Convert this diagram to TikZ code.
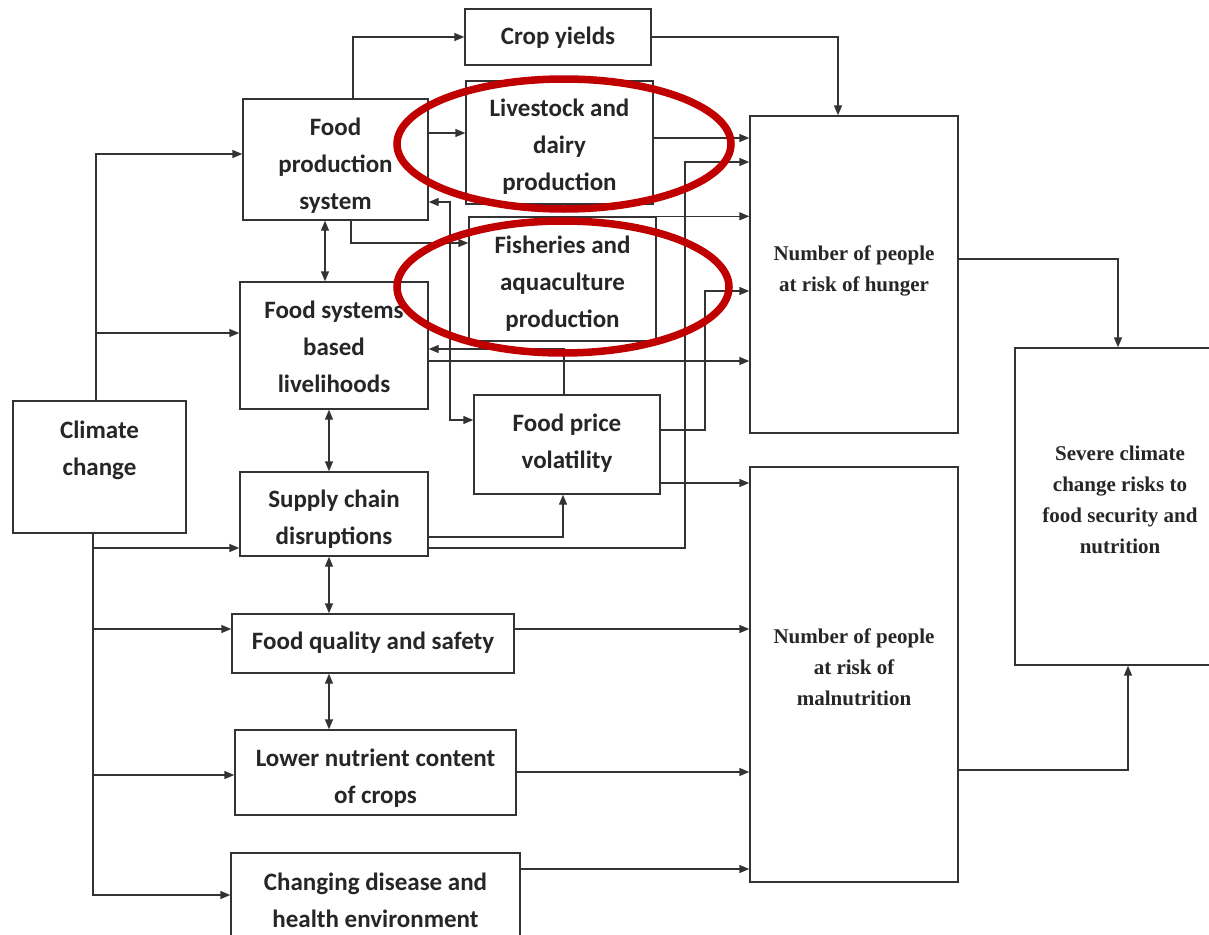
\documentclass[tikz,border=0pt]{standalone}
\usepackage{fontspec}
\setmainfont{Liberation Serif}
\newfontfamily\calfont{Carlito}
\usetikzlibrary{arrows.meta}
\definecolor{linec}{HTML}{333333}
\definecolor{inkc}{HTML}{262626}
\definecolor{ringc}{HTML}{C00000}

\tikzset{
  box/.style={draw=linec, line width=1.4pt, rectangle, inner sep=0pt},
  sz/.style 2 args={minimum width=#1pt, minimum height=#2pt},
  sanstext/.style={font=\calfont\bfseries\fontsize{25}{37}\selectfont, text=inkc, align=center, inner sep=0pt},
  seriftext/.style={font=\bfseries\fontsize{21}{31}\selectfont, text=inkc, align=center, inner sep=0pt},
  conn/.style={draw=linec, line width=1.4pt},
  arr/.style={conn, -{Triangle[length=10pt,width=8pt]}},
  dbl/.style={conn, {Triangle[length=10pt,width=8pt]}-{Triangle[length=10pt,width=8pt]}},
  ring/.style={draw=ringc, line width=7.5pt},
}

\begin{document}
\begin{tikzpicture}[x=1pt, y=-1pt]
\useasboundingbox (0,0) rectangle (1209,934);

% ---- boxes ----
\node[box, sz={186}{56}]  (cy)   at (558,37)      {};
\node[box, sz={185}{121}] (fps)  at (335.5,159.5) {};
\node[box, sz={187}{123}] (live) at (559.5,142.5) {};
\node[box, sz={187}{124}] (fish) at (562.5,279)   {};
\node[box, sz={188}{127}] (fsbl) at (334,345.5)   {};
\node[box, sz={186}{99}]  (fpv)  at (567,444.5)   {};
\node[box, sz={173}{132}] (cc)   at (99.5,467)    {};
\node[box, sz={188}{84}]  (scd)  at (334,514)     {};
\node[box, sz={282}{59}]  (fqs)  at (373,643.5)   {};
\node[box, sz={281}{85}]  (lnc)  at (375.5,772.5) {};
\node[box, sz={289}{97}]  (cdh)  at (375.5,901.5) {};
\node[box, sz={208}{317}] (hunger) at (854,274.5)  {};
\node[box, sz={208}{415}] (maln)   at (854,674.5)  {};
\node[box, sz={215}{317}] (sev)    at (1122.5,506.5) {};

% ---- box texts ----
\node[sanstext] (cyt)   at (558,38)     {Crop yields};
\node[sanstext] (fpst)  at (335.5,165.5){Food\\production\\system};
\node[sanstext] (livet) at (559.5,147)  {Livestock and\\dairy\\production};
\node[sanstext] (fisht) at (562.5,283.5){Fisheries and\\aquaculture\\production};
\node[sanstext] (fsblt) at (334,346.5)  {Food systems\\based\\livelihoods};
\node[sanstext] (fpvt)  at (567,443)    {Food price\\volatility};
\node[sanstext] (cct)   at (99.5,450)   {Climate\\change};
\node[sanstext] (scdt)  at (334,519)    {Supply chain\\disruptions};
\node[sanstext] (fqst)  at (373,642.5)  {Food quality and safety};
\node[sanstext] (lnct)  at (375.5,778)  {Lower nutrient content\\of crops};
\node[sanstext] (cdht)  at (375.5,900.5){Changing disease and\\health environment};
\node[seriftext] (hunt) at (854,270.5)  {Number of people\\at risk of hunger};
\node[seriftext] (malt) at (854,667)    {Number of people\\at risk of\\malnutrition};
\node[seriftext] (sevt) at (1120,500)   {Severe climate\\change risks to\\food security and\\nutrition};

% ---- climate change drivers ----
\draw[arr] (cc.north -| 96,0) |- (fps.west |- 0,154);
\draw[arr] (cc.north -| 96,0) |- (fsbl.west |- 0,333);
\draw[arr] (cc.south -| 93,0) |- (scd.west |- 0,548);
\draw[arr] (cc.south -| 93,0) |- (fqs.west |- 0,629);
\draw[arr] (cc.south -| 93,0) |- (lnc.west |- 0,775);
\draw[arr] (cc.south -| 93,0) |- (cdh.west |- 0,895);

% ---- food production links ----
\draw[arr] (fps.north -| 353,0) |- (cy.west |- 0,37);
\draw[arr] (fps.east |- 0,133) -- (live.west |- 0,133);
\draw[arr] (fps.south -| 351,0) |- (fish.west |- 0,243);
\draw[dbl] (fps.east |- 0,202) -| (450,420) -- (fpv.west |- 0,420);
\draw[arr] (fpv.north -| 564,0) |- (fsbl.east |- 0,349);
\draw[arr] (scd.east |- 0,537) -| (fpv.south -| 563,0);

% ---- vertical two-way links ----
\draw[dbl] (fps.south -| 325,0) -- (fsbl.north -| 325,0);
\draw[dbl] (fsbl.south -| 329,0) -- (scd.north -| 329,0);
\draw[dbl] (scd.south -| 329,0) -- (fqs.north -| 329,0);
\draw[dbl] (fqs.south -| 329,0) -- (lnc.north -| 329,0);

% ---- into hunger ----
\draw[arr] (cy.east |- 0,37) -| (hunger.north -| 838,0);
\draw[arr] (live.east |- 0,138) -- (hunger.west |- 0,138);
\draw[arr] (scd.east |- 0,548) -| (685,162) -- (hunger.west |- 0,162);
\draw[arr] (fish.north east) -- (hunger.west |- fish.north east);
\draw[arr] (fpv.east |- 0,430) -| (705,291) -- (hunger.west |- 0,291);
\draw[arr] (fsbl.east |- 0,361) -- (hunger.west |- 0,361);

% ---- into malnutrition ----
\draw[arr] (fpv.east |- 0,483) -- (maln.west |- 0,483);
\draw[arr] (fqs.east |- 0,629) -- (maln.west |- 0,629);
\draw[arr] (lnc.east |- 0,772) -- (maln.west |- 0,772);
\draw[arr] (cdh.east |- 0,869) -- (maln.west |- 0,869);

% ---- outcome ----
\draw[arr] (hunger.east |- 0,259) -| (sev.north -| 1118,0);
\draw[arr] (maln.east |- 0,770) -| (sev.south -| 1128,0);

% ---- highlight rings ----
\draw[ring] (564,144) ellipse [x radius=167pt, y radius=65pt];
\draw[ring] (563,287) ellipse [x radius=166pt, y radius=66pt];
\end{tikzpicture}
\end{document}
